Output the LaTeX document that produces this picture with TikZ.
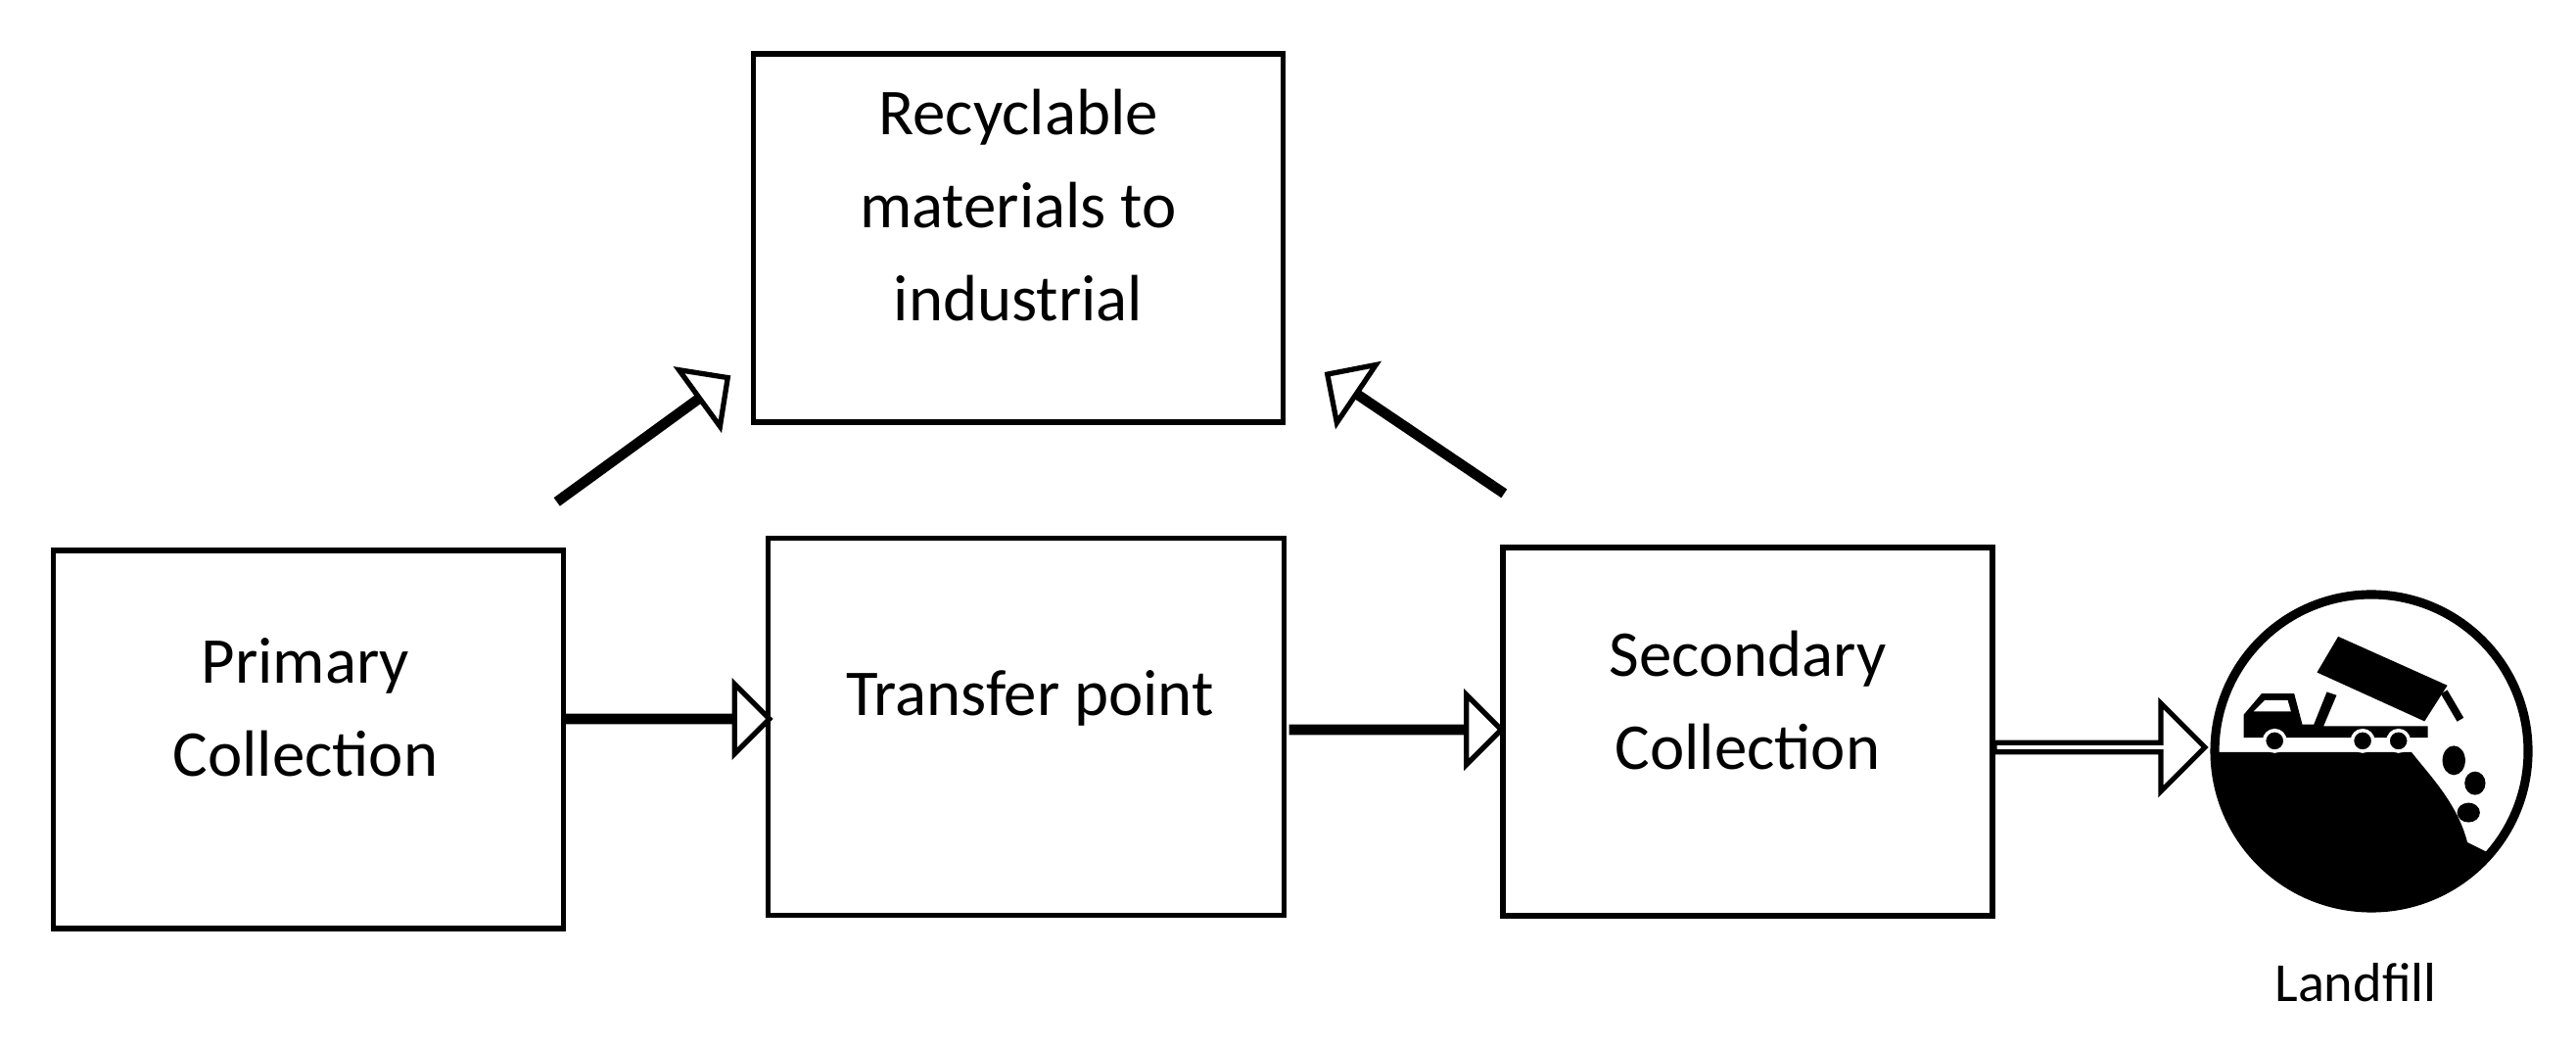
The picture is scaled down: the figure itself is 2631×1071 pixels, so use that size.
\documentclass[tikz,border=0pt]{standalone}
\usepackage{fontspec}
\setmainfont{Carlito}
\usetikzlibrary{shapes.arrows}
\tikzset{
	box/.style = {draw, line width=1.6pt, align=center, inner sep=0pt,
		font=\fontsize{19}{27}\selectfont},
	blockarrow/.style = {draw, line width=1.5pt, single arrow, inner sep=0pt,
		single arrow head extend=0.33cm, single arrow tip angle=90, fill=white}
}
\begin{document}
\begin{tikzpicture}[x = 0.01cm, y = -0.01cm]
	\useasboundingbox (0,0) rectangle (2631,1071);
	
	\node[box, minimum width=5.21cm, minimum height=3.86cm] (primary) at (315,755) {};
	\node[font=\fontsize{19}{27}\selectfont, align=center] (primarytext) at (312,722) {Primary\\Collection};
	\node[box, minimum width=5.27cm, minimum height=3.85cm] (transfer) at (1048,742) {};
	\node[font=\fontsize{19}{27}\selectfont] (transfertext) at (1052,713) {Transfer point};
	\node[box, minimum width=5.00cm, minimum height=3.76cm] (secondary) at (1785,747) {};
	\node[font=\fontsize{19}{27}\selectfont, align=center] (secondarytext) at (1785,715) {Secondary\\Collection};
	\node[box, minimum width=5.41cm, minimum height=3.76cm] (recycle) at (1040,243) {};
	\node[font=\fontsize{19}{27}\selectfont, align=center] (recycletext) at (1040,210) {Recyclable\\materials to\\industrial};
	
	% block arrows
	\node[blockarrow, minimum height=2.09cm, minimum width=0.64cm] (a1) at (680,734) {};
	\node[blockarrow, minimum height=2.14cm, minimum width=0.64cm] (a2) at (1425,745) {};
	\node[blockarrow, minimum height=2.15cm, minimum width=0.90cm, single arrow head extend=0.22cm] (a3) at (2142,763) {};
	\node[blockarrow, minimum height=2.13cm, minimum width=0.64cm, rotate=36] (a4) at (656,449) {};
	\node[blockarrow, minimum height=2.15cm, minimum width=0.64cm, rotate=146] (a5) at (1446,443) {};
	
	% landfill icon
	\coordinate (landfill) at (2422,767);
	\begin{scope}
		\clip (landfill) circle (160);
		\fill (2230,580) ++(-100,188) -- ++(333,0)
			.. controls (2480,790) and (2510,820) .. (2520,860)
			-- (2540,870) -- (2620,870) -- (2620,1000) -- (2200,1000) -- cycle;
	\end{scope}
	\draw[line width=2.6pt] (landfill) circle (160);
	\begin{scope}[shift={(2230,580)}, x=0.003333cm, y=-0.003333cm]
		\fill (410,320) -- (475,210) -- (810,360) -- (740,470) -- cycle;
		\draw[line width=2.2pt] (800,380) -- (850,465);
		\fill (185,520) -- (185,450) -- (240,385) -- (340,385) -- (365,480)
			-- (400,480) -- (440,380) -- (470,390) -- (430,485) -- (750,485) -- (750,520) -- cycle;
		\fill[white] (215,440) -- (250,405) -- (320,405) -- (330,440) -- cycle;
		\foreach \wx in {280,550,660}
			\filldraw[draw=white, line width=1pt] (\wx,530) circle (32);
		\fill (830,590) ellipse (35 and 45);
		\fill (895,660) ellipse (32 and 36);
		\fill (875,750) ellipse (35 and 30);
	\end{scope}
	\node[font=\fontsize{16}{20}\selectfont] (landfilltext) at (2406,1003) {Landfill};
\end{tikzpicture}
\end{document}
